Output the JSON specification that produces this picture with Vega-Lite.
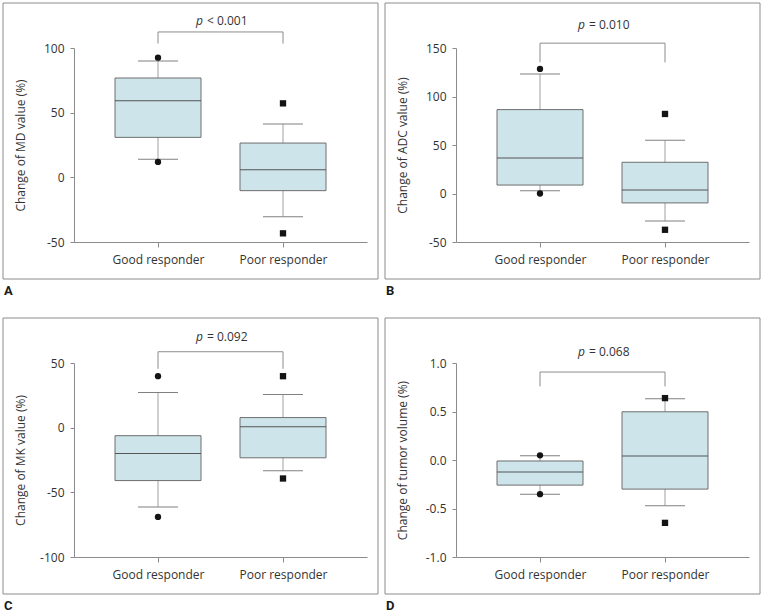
{
  "$schema": "https://vega.github.io/schema/vega-lite/v6.json",
  "padding": {"left": 2, "top": 2, "right": 2, "bottom": 0},
  "background": "white",
  "datasets": {
    "panels": [{"panel": "A"}, {"panel": "B"}, {"panel": "C"}, {"panel": "D"}],
    "boxes": [
      {"panel": "A", "group": "Good responder", "lo": 13.9, "q1": 30.9, "med": 59.3, "q3": 76.8, "hi": 90},
      {"panel": "A", "group": "Poor responder", "lo": -30.4, "q1": -10.3, "med": 5.9, "q3": 26.5, "hi": 41.2},
      {"panel": "B", "group": "Good responder", "lo": 2.8, "q1": 8.7, "med": 36.7, "q3": 86.5, "hi": 123.2},
      {"panel": "B", "group": "Poor responder", "lo": -28.4, "q1": -9.7, "med": 3.5, "q3": 32.2, "hi": 55},
      {"panel": "C", "group": "Good responder", "lo": -61.3, "q1": -40.9, "med": -19.9, "q3": -6.2, "hi": 27.2},
      {"panel": "C", "group": "Poor responder", "lo": -33.4, "q1": -23.3, "med": 0.8, "q3": 7.8, "hi": 25.6},
      {"panel": "D", "group": "Good responder", "lo": -0.352, "q1": -0.259, "med": -0.124, "q3": -0.01, "hi": 0.045},
      {"panel": "D", "group": "Poor responder", "lo": -0.472, "q1": -0.3, "med": 0.041, "q3": 0.497, "hi": 0.631}
    ],
    "outliers": [
      {"panel": "A", "group": "Good responder", "value": 92.5},
      {"panel": "A", "group": "Good responder", "value": 11.9},
      {"panel": "A", "group": "Poor responder", "value": 57.2},
      {"panel": "A", "group": "Poor responder", "value": -43.3},
      {"panel": "B", "group": "Good responder", "value": 128.4},
      {"panel": "B", "group": "Good responder", "value": 0},
      {"panel": "B", "group": "Poor responder", "value": 82},
      {"panel": "B", "group": "Poor responder", "value": -37.4},
      {"panel": "C", "group": "Good responder", "value": 39.8},
      {"panel": "C", "group": "Good responder", "value": -69},
      {"panel": "C", "group": "Poor responder", "value": 39.8},
      {"panel": "C", "group": "Poor responder", "value": -39.3},
      {"panel": "D", "group": "Good responder", "value": 0.048},
      {"panel": "D", "group": "Good responder", "value": -0.352},
      {"panel": "D", "group": "Poor responder", "value": 0.638},
      {"panel": "D", "group": "Poor responder", "value": -0.648}
    ],
    "annotations": [
      {"panel": "A", "ptext": "< 0.001", "top": 112.4, "tip": 103.4, "ty": 120.9},
      {"panel": "B", "ptext": "= 0.010", "top": 155, "tip": 135.3, "ty": 174},
      {"panel": "C", "ptext": "= 0.092", "top": 58.7, "tip": 45.5, "ty": 70},
      {"panel": "D", "ptext": "= 0.068", "top": 0.907, "tip": 0.759, "ty": 1.114}
    ]
  },
  "columns": 2,
  "spacing": {"row": 121, "column": 89},
  "bounds": "flush",
  "concat": [
    {
      "width": 293, "height": 194,
      "layer": [
        {
          "data": {"name": "panels"},
          "transform": [{"filter": "datum.panel === 'A'"}],
          "encoding": {
            "x": {"datum": 0, "type": "quantitative", "scale": {"domain": [0, 1], "range": [-71, 304], "nice": false, "zero": false}, "axis": null},
            "y": {"datum": 0, "type": "quantitative", "scale": {"domain": [0, 1], "range": [231, -45], "nice": false, "zero": false}, "axis": null}
          },
          "layer": [
            {"mark": {"type": "rect", "fill": "transparent", "stroke": "#8c8c8c", "strokeWidth": 1}, "encoding": {"x2": {"datum": 1}, "y2": {"datum": 1}}},
            {"mark": {"type": "text", "align": "left", "baseline": "alphabetic", "dx": 1, "dy": 16, "font": "Roboto", "fontSize": 13, "fontWeight": "bold", "color": "#1a1a1a"}, "encoding": {"text": {"field": "panel"}}}
          ]
        },
        {
          "encoding": {
            "x": {"field": "group", "type": "nominal", "scale": {"type": "point", "padding": 0.672, "domain": ["Good responder", "Poor responder"]}, "axis": {"title": null, "labelAngle": 0, "tickSize": 5, "labelPadding": 7}}
          },
          "layer": [
            {
              "data": {"name": "boxes"}, "transform": [{"filter": "datum.panel === 'A'"}],
              "layer": [
                {"mark": {"type": "rule", "color": "#a0a0a0"}, "encoding": {"y": {"field": "lo", "type": "quantitative", "scale": {"domain": [-50, 100], "nice": false, "zero": false}, "axis": {"values": [-50, 0, 50, 100], "title": "Change of MD value (%)", "labelExpr": "replace(datum.label, '−', '-')", "titleX": -47, "titleY": 97}}, "y2": {"field": "hi"}}},
                {"mark": {"type": "bar", "size": 86, "fill": "#cde5ea", "stroke": "#6e6e6e", "strokeWidth": 1}, "encoding": {"y": {"field": "q1", "type": "quantitative"}, "y2": {"field": "q3"}}},
                {"mark": {"type": "tick", "orient": "horizontal", "size": 86, "thickness": 1, "color": "#555555", "opacity": 1}, "encoding": {"y": {"field": "med", "type": "quantitative"}}},
                {"mark": {"type": "tick", "orient": "horizontal", "size": 40, "thickness": 1, "color": "#808080", "opacity": 1}, "encoding": {"y": {"field": "hi", "type": "quantitative"}}},
                {"mark": {"type": "tick", "orient": "horizontal", "size": 40, "thickness": 1, "color": "#808080", "opacity": 1}, "encoding": {"y": {"field": "lo", "type": "quantitative"}}}
              ]
            },
            {
              "data": {"name": "outliers"}, "transform": [{"filter": "datum.panel === 'A'"}],
              "mark": {"type": "point", "filled": true, "size": 40, "color": "#141414", "opacity": 1},
              "encoding": {"y": {"field": "value", "type": "quantitative"}, "shape": {"field": "group", "type": "nominal", "scale": {"domain": ["Good responder", "Poor responder"], "range": ["circle", "square"]}, "legend": null}}
            },
            {
              "data": {"name": "annotations"}, "transform": [{"filter": "datum.panel === 'A'"}],
              "layer": [
                {"mark": {"type": "rule", "color": "#8c8c8c"}, "encoding": {"x": {"datum": "Good responder", "type": "nominal"}, "x2": {"datum": "Poor responder"}, "y": {"field": "top", "type": "quantitative"}}},
                {"mark": {"type": "rule", "color": "#8c8c8c"}, "encoding": {"x": {"datum": "Good responder", "type": "nominal"}, "y": {"field": "tip", "type": "quantitative"}, "y2": {"field": "top"}}},
                {"mark": {"type": "rule", "color": "#8c8c8c"}, "encoding": {"x": {"datum": "Poor responder", "type": "nominal"}, "y": {"field": "tip", "type": "quantitative"}, "y2": {"field": "top"}}},
                {"mark": {"type": "text", "text": "p", "fontStyle": "italic", "align": "right", "baseline": "middle", "dx": 45}, "encoding": {"x": {"datum": "Good responder", "type": "nominal"}, "y": {"field": "ty", "type": "quantitative"}}},
                {"mark": {"type": "text", "align": "left", "baseline": "middle", "dx": 49}, "encoding": {"x": {"datum": "Good responder", "type": "nominal"}, "y": {"field": "ty", "type": "quantitative"}, "text": {"field": "ptext"}}}
              ]
            }
          ]
        }
      ],
      "resolve": {"scale": {"x": "independent", "y": "independent"}}
    },
    {
      "width": 293, "height": 194,
      "layer": [
        {
          "data": {"name": "panels"},
          "transform": [{"filter": "datum.panel === 'B'"}],
          "encoding": {
            "x": {"datum": 0, "type": "quantitative", "scale": {"domain": [0, 1], "range": [-71, 304], "nice": false, "zero": false}, "axis": null},
            "y": {"datum": 0, "type": "quantitative", "scale": {"domain": [0, 1], "range": [231, -45], "nice": false, "zero": false}, "axis": null}
          },
          "layer": [
            {"mark": {"type": "rect", "fill": "transparent", "stroke": "#8c8c8c", "strokeWidth": 1}, "encoding": {"x2": {"datum": 1}, "y2": {"datum": 1}}},
            {"mark": {"type": "text", "align": "left", "baseline": "alphabetic", "dx": 1, "dy": 16, "font": "Roboto", "fontSize": 13, "fontWeight": "bold", "color": "#1a1a1a"}, "encoding": {"text": {"field": "panel"}}}
          ]
        },
        {
          "encoding": {
            "x": {"field": "group", "type": "nominal", "scale": {"type": "point", "padding": 0.672, "domain": ["Good responder", "Poor responder"]}, "axis": {"title": null, "labelAngle": 0, "tickSize": 5, "labelPadding": 7}}
          },
          "layer": [
            {
              "data": {"name": "boxes"}, "transform": [{"filter": "datum.panel === 'B'"}],
              "layer": [
                {"mark": {"type": "rule", "color": "#a0a0a0"}, "encoding": {"y": {"field": "lo", "type": "quantitative", "scale": {"domain": [-50, 150], "nice": false, "zero": false}, "axis": {"values": [-50, 0, 50, 100, 150], "title": "Change of ADC value (%)", "labelExpr": "replace(datum.label, '−', '-')", "titleX": -47, "titleY": 97}}, "y2": {"field": "hi"}}},
                {"mark": {"type": "bar", "size": 86, "fill": "#cde5ea", "stroke": "#6e6e6e", "strokeWidth": 1}, "encoding": {"y": {"field": "q1", "type": "quantitative"}, "y2": {"field": "q3"}}},
                {"mark": {"type": "tick", "orient": "horizontal", "size": 86, "thickness": 1, "color": "#555555", "opacity": 1}, "encoding": {"y": {"field": "med", "type": "quantitative"}}},
                {"mark": {"type": "tick", "orient": "horizontal", "size": 40, "thickness": 1, "color": "#808080", "opacity": 1}, "encoding": {"y": {"field": "hi", "type": "quantitative"}}},
                {"mark": {"type": "tick", "orient": "horizontal", "size": 40, "thickness": 1, "color": "#808080", "opacity": 1}, "encoding": {"y": {"field": "lo", "type": "quantitative"}}}
              ]
            },
            {
              "data": {"name": "outliers"}, "transform": [{"filter": "datum.panel === 'B'"}],
              "mark": {"type": "point", "filled": true, "size": 40, "color": "#141414", "opacity": 1},
              "encoding": {"y": {"field": "value", "type": "quantitative"}, "shape": {"field": "group", "type": "nominal", "scale": {"domain": ["Good responder", "Poor responder"], "range": ["circle", "square"]}, "legend": null}}
            },
            {
              "data": {"name": "annotations"}, "transform": [{"filter": "datum.panel === 'B'"}],
              "layer": [
                {"mark": {"type": "rule", "color": "#8c8c8c"}, "encoding": {"x": {"datum": "Good responder", "type": "nominal"}, "x2": {"datum": "Poor responder"}, "y": {"field": "top", "type": "quantitative"}}},
                {"mark": {"type": "rule", "color": "#8c8c8c"}, "encoding": {"x": {"datum": "Good responder", "type": "nominal"}, "y": {"field": "tip", "type": "quantitative"}, "y2": {"field": "top"}}},
                {"mark": {"type": "rule", "color": "#8c8c8c"}, "encoding": {"x": {"datum": "Poor responder", "type": "nominal"}, "y": {"field": "tip", "type": "quantitative"}, "y2": {"field": "top"}}},
                {"mark": {"type": "text", "text": "p", "fontStyle": "italic", "align": "right", "baseline": "middle", "dx": 45}, "encoding": {"x": {"datum": "Good responder", "type": "nominal"}, "y": {"field": "ty", "type": "quantitative"}}},
                {"mark": {"type": "text", "align": "left", "baseline": "middle", "dx": 49}, "encoding": {"x": {"datum": "Good responder", "type": "nominal"}, "y": {"field": "ty", "type": "quantitative"}, "text": {"field": "ptext"}}}
              ]
            }
          ]
        }
      ],
      "resolve": {"scale": {"x": "independent", "y": "independent"}}
    },
    {
      "width": 293, "height": 194,
      "layer": [
        {
          "data": {"name": "panels"},
          "transform": [{"filter": "datum.panel === 'C'"}],
          "encoding": {
            "x": {"datum": 0, "type": "quantitative", "scale": {"domain": [0, 1], "range": [-71, 304], "nice": false, "zero": false}, "axis": null},
            "y": {"datum": 0, "type": "quantitative", "scale": {"domain": [0, 1], "range": [231, -45], "nice": false, "zero": false}, "axis": null}
          },
          "layer": [
            {"mark": {"type": "rect", "fill": "transparent", "stroke": "#8c8c8c", "strokeWidth": 1}, "encoding": {"x2": {"datum": 1}, "y2": {"datum": 1}}},
            {"mark": {"type": "text", "align": "left", "baseline": "alphabetic", "dx": 1, "dy": 16, "font": "Roboto", "fontSize": 13, "fontWeight": "bold", "color": "#1a1a1a"}, "encoding": {"text": {"field": "panel"}}}
          ]
        },
        {
          "encoding": {
            "x": {"field": "group", "type": "nominal", "scale": {"type": "point", "padding": 0.672, "domain": ["Good responder", "Poor responder"]}, "axis": {"title": null, "labelAngle": 0, "tickSize": 5, "labelPadding": 7}}
          },
          "layer": [
            {
              "data": {"name": "boxes"}, "transform": [{"filter": "datum.panel === 'C'"}],
              "layer": [
                {"mark": {"type": "rule", "color": "#a0a0a0"}, "encoding": {"y": {"field": "lo", "type": "quantitative", "scale": {"domain": [-100, 50], "nice": false, "zero": false}, "axis": {"values": [-100, -50, 0, 50], "title": "Change of MK value (%)", "labelExpr": "replace(datum.label, '−', '-')", "titleX": -47, "titleY": 97}}, "y2": {"field": "hi"}}},
                {"mark": {"type": "bar", "size": 86, "fill": "#cde5ea", "stroke": "#6e6e6e", "strokeWidth": 1}, "encoding": {"y": {"field": "q1", "type": "quantitative"}, "y2": {"field": "q3"}}},
                {"mark": {"type": "tick", "orient": "horizontal", "size": 86, "thickness": 1, "color": "#555555", "opacity": 1}, "encoding": {"y": {"field": "med", "type": "quantitative"}}},
                {"mark": {"type": "tick", "orient": "horizontal", "size": 40, "thickness": 1, "color": "#808080", "opacity": 1}, "encoding": {"y": {"field": "hi", "type": "quantitative"}}},
                {"mark": {"type": "tick", "orient": "horizontal", "size": 40, "thickness": 1, "color": "#808080", "opacity": 1}, "encoding": {"y": {"field": "lo", "type": "quantitative"}}}
              ]
            },
            {
              "data": {"name": "outliers"}, "transform": [{"filter": "datum.panel === 'C'"}],
              "mark": {"type": "point", "filled": true, "size": 40, "color": "#141414", "opacity": 1},
              "encoding": {"y": {"field": "value", "type": "quantitative"}, "shape": {"field": "group", "type": "nominal", "scale": {"domain": ["Good responder", "Poor responder"], "range": ["circle", "square"]}, "legend": null}}
            },
            {
              "data": {"name": "annotations"}, "transform": [{"filter": "datum.panel === 'C'"}],
              "layer": [
                {"mark": {"type": "rule", "color": "#8c8c8c"}, "encoding": {"x": {"datum": "Good responder", "type": "nominal"}, "x2": {"datum": "Poor responder"}, "y": {"field": "top", "type": "quantitative"}}},
                {"mark": {"type": "rule", "color": "#8c8c8c"}, "encoding": {"x": {"datum": "Good responder", "type": "nominal"}, "y": {"field": "tip", "type": "quantitative"}, "y2": {"field": "top"}}},
                {"mark": {"type": "rule", "color": "#8c8c8c"}, "encoding": {"x": {"datum": "Poor responder", "type": "nominal"}, "y": {"field": "tip", "type": "quantitative"}, "y2": {"field": "top"}}},
                {"mark": {"type": "text", "text": "p", "fontStyle": "italic", "align": "right", "baseline": "middle", "dx": 45}, "encoding": {"x": {"datum": "Good responder", "type": "nominal"}, "y": {"field": "ty", "type": "quantitative"}}},
                {"mark": {"type": "text", "align": "left", "baseline": "middle", "dx": 49}, "encoding": {"x": {"datum": "Good responder", "type": "nominal"}, "y": {"field": "ty", "type": "quantitative"}, "text": {"field": "ptext"}}}
              ]
            }
          ]
        }
      ],
      "resolve": {"scale": {"x": "independent", "y": "independent"}}
    },
    {
      "width": 293, "height": 194,
      "layer": [
        {
          "data": {"name": "panels"},
          "transform": [{"filter": "datum.panel === 'D'"}],
          "encoding": {
            "x": {"datum": 0, "type": "quantitative", "scale": {"domain": [0, 1], "range": [-71, 304], "nice": false, "zero": false}, "axis": null},
            "y": {"datum": 0, "type": "quantitative", "scale": {"domain": [0, 1], "range": [231, -45], "nice": false, "zero": false}, "axis": null}
          },
          "layer": [
            {"mark": {"type": "rect", "fill": "transparent", "stroke": "#8c8c8c", "strokeWidth": 1}, "encoding": {"x2": {"datum": 1}, "y2": {"datum": 1}}},
            {"mark": {"type": "text", "align": "left", "baseline": "alphabetic", "dx": 1, "dy": 16, "font": "Roboto", "fontSize": 13, "fontWeight": "bold", "color": "#1a1a1a"}, "encoding": {"text": {"field": "panel"}}}
          ]
        },
        {
          "encoding": {
            "x": {"field": "group", "type": "nominal", "scale": {"type": "point", "padding": 0.672, "domain": ["Good responder", "Poor responder"]}, "axis": {"title": null, "labelAngle": 0, "tickSize": 5, "labelPadding": 7}}
          },
          "layer": [
            {
              "data": {"name": "boxes"}, "transform": [{"filter": "datum.panel === 'D'"}],
              "layer": [
                {"mark": {"type": "rule", "color": "#a0a0a0"}, "encoding": {"y": {"field": "lo", "type": "quantitative", "scale": {"domain": [-1, 1], "nice": false, "zero": false}, "axis": {"values": [-1, -0.5, 0, 0.5, 1], "format": ".1f", "title": "Change of tumor volume (%)", "labelExpr": "replace(datum.label, '−', '-')", "titleX": -47, "titleY": 97}}, "y2": {"field": "hi"}}},
                {"mark": {"type": "bar", "size": 86, "fill": "#cde5ea", "stroke": "#6e6e6e", "strokeWidth": 1}, "encoding": {"y": {"field": "q1", "type": "quantitative"}, "y2": {"field": "q3"}}},
                {"mark": {"type": "tick", "orient": "horizontal", "size": 86, "thickness": 1, "color": "#555555", "opacity": 1}, "encoding": {"y": {"field": "med", "type": "quantitative"}}},
                {"mark": {"type": "tick", "orient": "horizontal", "size": 40, "thickness": 1, "color": "#808080", "opacity": 1}, "encoding": {"y": {"field": "hi", "type": "quantitative"}}},
                {"mark": {"type": "tick", "orient": "horizontal", "size": 40, "thickness": 1, "color": "#808080", "opacity": 1}, "encoding": {"y": {"field": "lo", "type": "quantitative"}}}
              ]
            },
            {
              "data": {"name": "outliers"}, "transform": [{"filter": "datum.panel === 'D'"}],
              "mark": {"type": "point", "filled": true, "size": 40, "color": "#141414", "opacity": 1},
              "encoding": {"y": {"field": "value", "type": "quantitative"}, "shape": {"field": "group", "type": "nominal", "scale": {"domain": ["Good responder", "Poor responder"], "range": ["circle", "square"]}, "legend": null}}
            },
            {
              "data": {"name": "annotations"}, "transform": [{"filter": "datum.panel === 'D'"}],
              "layer": [
                {"mark": {"type": "rule", "color": "#8c8c8c"}, "encoding": {"x": {"datum": "Good responder", "type": "nominal"}, "x2": {"datum": "Poor responder"}, "y": {"field": "top", "type": "quantitative"}}},
                {"mark": {"type": "rule", "color": "#8c8c8c"}, "encoding": {"x": {"datum": "Good responder", "type": "nominal"}, "y": {"field": "tip", "type": "quantitative"}, "y2": {"field": "top"}}},
                {"mark": {"type": "rule", "color": "#8c8c8c"}, "encoding": {"x": {"datum": "Poor responder", "type": "nominal"}, "y": {"field": "tip", "type": "quantitative"}, "y2": {"field": "top"}}},
                {"mark": {"type": "text", "text": "p", "fontStyle": "italic", "align": "right", "baseline": "middle", "dx": 45}, "encoding": {"x": {"datum": "Good responder", "type": "nominal"}, "y": {"field": "ty", "type": "quantitative"}}},
                {"mark": {"type": "text", "align": "left", "baseline": "middle", "dx": 49}, "encoding": {"x": {"datum": "Good responder", "type": "nominal"}, "y": {"field": "ty", "type": "quantitative"}, "text": {"field": "ptext"}}}
              ]
            }
          ]
        }
      ],
      "resolve": {"scale": {"x": "independent", "y": "independent"}}
    }
  ],
  "config": {
    "view": {"stroke": null},
    "font": "Open Sans",
    "axis": {
      "domainColor": "#8c8c8c", "tickColor": "#8c8c8c",
      "labelColor": "#333333", "titleColor": "#333333",
      "labelFont": "Open Sans", "titleFont": "Open Sans",
      "labelFontSize": 12, "titleFontSize": 12, "titleFontWeight": "normal",
      "grid": false, "tickSize": 4, "labelPadding": 6
    },
    "text": {"font": "Open Sans", "fontSize": 12, "color": "#333333"}
  }
}
